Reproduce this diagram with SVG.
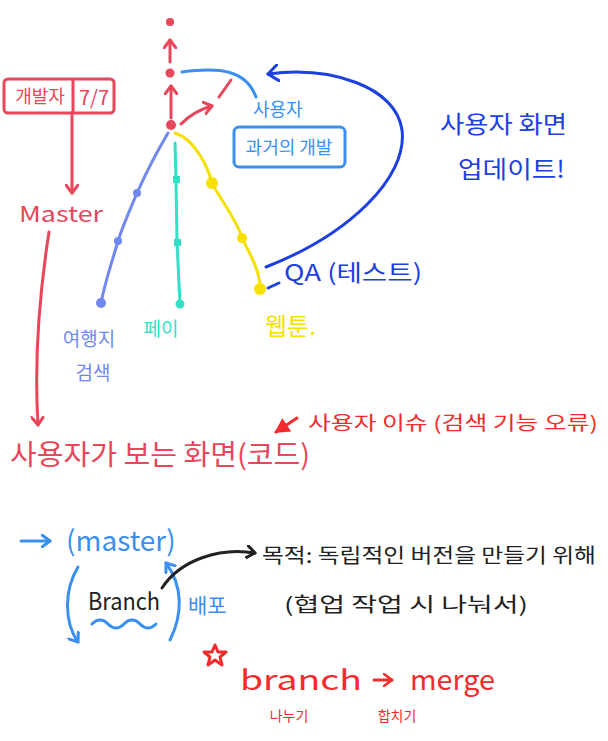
<svg xmlns="http://www.w3.org/2000/svg" width="608" height="741" viewBox="0 0 608 741">
<style>
text{font-family:"Noto Sans CJK KR","Noto Sans",sans-serif;}
.s{fill:none;stroke-width:3;stroke-linecap:round;stroke-linejoin:round;}
.red{stroke:#e8465a;}
.rtx{fill:#e8465a;}
.lb{stroke:#3a8ff0;}
.lbt{fill:#3a8ff0;}
.db{stroke:#1c40e2;}
.dbt{fill:#1c40e2;}
.br{stroke:#f22b2b;}
.brt{fill:#f22b2b;}
</style>
<defs>
<marker id="mr" markerWidth="12" markerHeight="14" refX="9" refY="7" orient="auto" markerUnits="userSpaceOnUse"><path d="M1,1 L9,7 L1,13" fill="none" stroke="#e8465a" stroke-width="3" stroke-linecap="round" stroke-linejoin="round"/></marker>
<marker id="mlb" markerWidth="12" markerHeight="14" refX="9" refY="7" orient="auto" markerUnits="userSpaceOnUse"><path d="M1,1 L9,7 L1,13" fill="none" stroke="#3a8ff0" stroke-width="3" stroke-linecap="round" stroke-linejoin="round"/></marker>
<marker id="mdb" markerWidth="14" markerHeight="18" refX="11" refY="9" orient="auto" markerUnits="userSpaceOnUse"><path d="M1,1 L11,9 L1,17" fill="none" stroke="#1c40e2" stroke-width="3" stroke-linecap="round" stroke-linejoin="round"/></marker>
<marker id="mk" markerWidth="12" markerHeight="14" refX="9" refY="7" orient="auto" markerUnits="userSpaceOnUse"><path d="M1,1 L9,7 L1,13" fill="none" stroke="#222" stroke-width="3" stroke-linecap="round" stroke-linejoin="round"/></marker>
<marker id="mbro" markerWidth="12" markerHeight="14" refX="9" refY="7" orient="auto" markerUnits="userSpaceOnUse"><path d="M1,1 L9,7 L1,13" fill="none" stroke="#f22b2b" stroke-width="2.5" stroke-linecap="round" stroke-linejoin="round"/></marker>
<marker id="mbr" markerWidth="18" markerHeight="18" refX="13" refY="9" orient="auto" markerUnits="userSpaceOnUse"><path d="M0,1 L15,9 L0,17 Z" fill="#f22b2b"/></marker>
</defs>

<g id="connectors">
  <path class="s red" d="M170,62 L170,40" marker-end="url(#mr)"/>
  <path class="s red" d="M171,118 L171,86" marker-end="url(#mr)"/>
  <path class="s red" d="M181,124 C190,115 200,109 212,106" marker-end="url(#mr)"/>
  <path class="s red" d="M219,97 L231,80"/>
  <path class="s lb" d="M182,72 C220,67 246,70 256,97"/>
  <path class="s db" d="M266,267 C348,235 408,178 402,130 C396,86 330,66 268,74" marker-end="url(#mdb)"/>
  <path class="s db" d="M268,288 L279,283"/>
  <path class="s" stroke="#7088f0" d="M168,133 C155,155 145,175 137,193 C130,210 123,225 118,241 C112,262 105,282 101,303"/>
  <path class="s" stroke="#33e0c6" d="M175,143 L176,180 L177,243 L180,304"/>
  <path class="s" stroke="#f5e000" d="M175,133 C196,140 208,168 212,183 C222,202 238,222 242,238 C252,258 260,272 260,288"/>
  <path class="s red" d="M72,113 L72,193" marker-end="url(#mr)"/>
  <path class="s red" d="M49,232 C40,290 34,360 38,425" marker-end="url(#mr)"/>
  <path class="s br" d="M297,418 L276,432" marker-end="url(#mbr)"/>
  <path class="s lb" d="M21,541 L50,541" marker-end="url(#mlb)"/>
  <path class="s lb" d="M78,567 C64,590 64,622 78,642" marker-end="url(#mlb)"/>
  <path class="s lb" d="M170,640 C183,614 183,586 166,563" marker-end="url(#mlb)"/>
  <path class="s lb" d="M92,624 q8,-8 16,0 t16,0 t16,0 t16,0"/>
  <path class="s" stroke="#222" d="M162,588 C180,560 220,547 255,553" marker-end="url(#mk)"/>
  <path class="s br" stroke-width="2.5" d="M374,680 L392,680" marker-end="url(#mbro)"/>
</g>

<g id="commit-top"><circle cx="170" cy="22" r="4" fill="#e8465a"/></g>
<g id="commit-mid"><circle cx="170" cy="73" r="4.5" fill="#e8465a"/></g>
<g id="commit-main"><circle cx="171" cy="125" r="5" fill="#e8465a"/></g>

<g id="node-past">
  <text x="253" y="116" font-size="18" class="lbt">사용자</text>
  <rect x="234" y="127" width="111" height="40" rx="5" class="s lb"/>
  <text x="289" y="154" font-size="18" text-anchor="middle" class="lbt">과거의 개발</text>
</g>

<g id="node-update">
  <text x="440" y="133" font-size="24" class="dbt" textLength="127" lengthAdjust="spacingAndGlyphs">사용자 화면</text>
  <text x="458" y="178" font-size="24" class="dbt" textLength="107" lengthAdjust="spacingAndGlyphs">업데이트!</text>
</g>

<g id="node-dev">
  <rect x="4" y="79" width="110" height="34" rx="4" class="s red"/>
  <line x1="73" y1="80" x2="73" y2="112" class="s red"/>
  <text x="40" y="103" font-size="18" text-anchor="middle" class="rtx">개발자</text>
  <text x="94" y="105" font-size="20" text-anchor="middle" class="rtx">7/7</text>
</g>

<g id="node-master"><text x="19" y="222" font-size="22" class="rtx" textLength="84" lengthAdjust="spacingAndGlyphs">Master</text></g>

<g id="branch-travel">
  <circle cx="137" cy="193" r="4" fill="#7088f0"/>
  <circle cx="118" cy="241" r="4" fill="#7088f0"/>
  <circle cx="101" cy="303" r="5" fill="#7088f0"/>
  <text x="89" y="346" font-size="19" text-anchor="middle" fill="#7088f0">여행지</text>
  <text x="93" y="380" font-size="19" text-anchor="middle" fill="#7088f0">검색</text>
</g>

<g id="branch-pay">
  <rect x="173" y="176" width="7" height="7" fill="#33e0c6"/>
  <rect x="174" y="239" width="7" height="7" fill="#33e0c6"/>
  <circle cx="180" cy="304" r="4.5" fill="#33e0c6"/>
  <text x="161" y="336" font-size="19" text-anchor="middle" fill="#33e0c6">페이</text>
</g>

<g id="branch-webtoon">
  <circle cx="212" cy="183" r="6" fill="#f5e000"/>
  <circle cx="242" cy="238" r="5" fill="#f5e000"/>
  <circle cx="260" cy="289" r="6" fill="#f5e000"/>
  <text x="265" y="335" font-size="24" fill="#f5e000">웹툰.</text>
</g>

<g id="node-qa"><text x="284" y="281" font-size="23" class="dbt" textLength="138" lengthAdjust="spacingAndGlyphs">QA (테스트)</text></g>

<g id="node-screen"><text x="10" y="465" font-size="28" class="rtx" textLength="300" lengthAdjust="spacingAndGlyphs">사용자가 보는 화면(코드)</text></g>

<g id="node-issue"><text x="308" y="430" font-size="19" class="brt" textLength="290" lengthAdjust="spacingAndGlyphs">사용자 이슈 (검색 기능 오류)</text></g>

<g id="node-master2"><text x="66" y="551" font-size="28" class="lbt">(master)</text></g>
<g id="node-branch"><text x="88" y="610" font-size="24" fill="#222" textLength="72" lengthAdjust="spacingAndGlyphs">Branch</text></g>
<g id="node-deploy"><text x="188" y="613" font-size="21" class="lbt">배포</text></g>

<g id="node-purpose">
  <text x="262" y="563" font-size="20" fill="#222" textLength="334" lengthAdjust="spacingAndGlyphs">목적: 독립적인 버전을 만들기 위해</text>
  <text x="284" y="612" font-size="20" fill="#222" textLength="244" lengthAdjust="spacingAndGlyphs">(협업 작업 시 나눠서)</text>
</g>

<g id="node-star"><polygon points="215,645 218,652 226,652 220,657 222,665 215,660 208,665 210,657 204,652 212,652" class="s br"/></g>

<g id="node-merge">
  <text x="240" y="690" font-size="28" class="brt" textLength="122" lengthAdjust="spacingAndGlyphs">branch</text>
  <text x="410" y="690" font-size="28" class="brt" textLength="85" lengthAdjust="spacingAndGlyphs">merge</text>
  <text x="289" y="721" font-size="14" text-anchor="middle" class="brt">나누기</text>
  <text x="397" y="721" font-size="14" text-anchor="middle" class="brt">합치기</text>
</g>
</svg>
